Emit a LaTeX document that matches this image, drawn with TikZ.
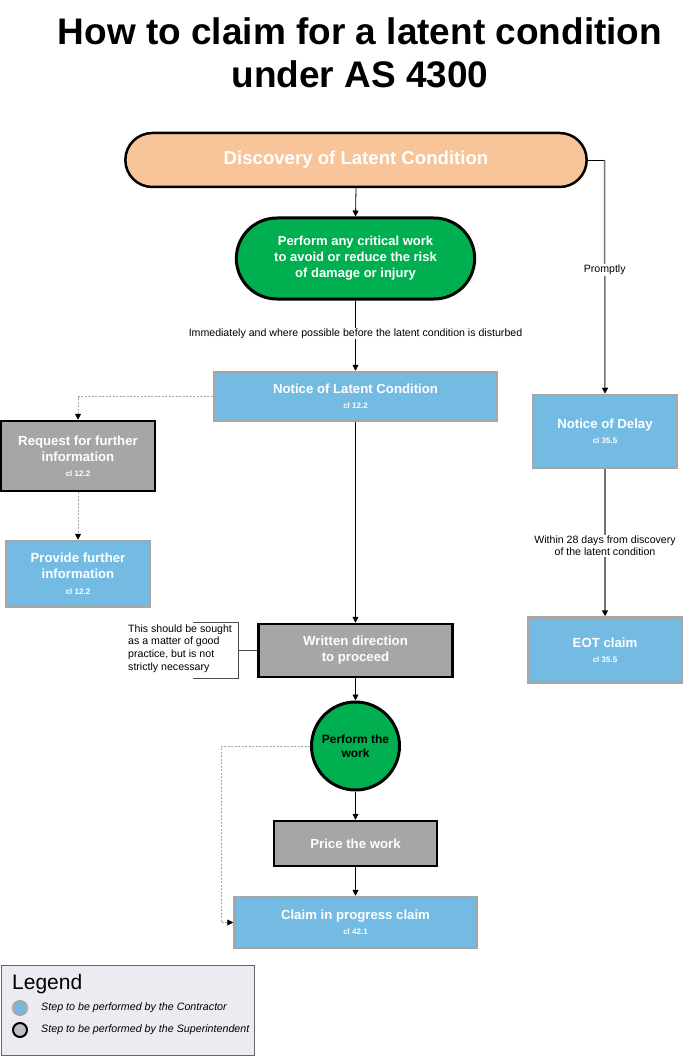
\documentclass[tikz,border=0pt]{standalone}
\usepackage{fontspec}
\setmainfont{Liberation Sans}
\usetikzlibrary{arrows.meta,shapes.misc}
\definecolor{peach}{HTML}{F8C49A}
\definecolor{grn}{HTML}{00B050}
\definecolor{blu}{HTML}{74BBE4}
\definecolor{gry}{HTML}{A6A6A6}
\definecolor{lav}{HTML}{EEEAF2}
\newcommand{\clno}[1]{{\fontsize{8}{10}\selectfont #1}}
\tikzset{
  conn/.style={draw=black, line width=0.8pt, -{Triangle[length=6pt,width=6pt]}},
  gconn/.style={draw=black!55, line width=1.5pt, -{Triangle[length=6pt,width=6pt,black]}},
  dconn/.style={draw=black!35, line width=0.8pt, dash pattern=on 2pt off 1.5pt, -{Triangle[length=6pt,width=6pt,black]}},
  contr/.style={draw=gry, line width=2.5pt, fill=blu, text=white, font=\fontsize{13.2}{16}\selectfont\bfseries, align=center, inner sep=0pt},
  superv/.style={draw=black, line width=2.5pt, fill=gry, text=white, font=\fontsize{13.2}{16}\selectfont\bfseries, align=center, inner sep=0pt},
  lbl/.style={fill=white, font=\fontsize{10.6}{12.5}\selectfont, align=center, inner sep=1pt},
}
\begin{document}
\begin{tikzpicture}[x=1pt,y=-1pt]
\useasboundingbox (0,0) rectangle (694,1056);
% title
\node[font=\fontsize{37}{43}\selectfont\bfseries, align=center] (title) at (360,53) {How to claim for a latent condition\\under AS 4300};
% discovery
\node[draw=black, line width=2.5pt, fill=peach, rounded rectangle, minimum width=468pt, minimum height=54pt, text=white, font=\fontsize{18.6}{22}\selectfont\bfseries] (disc) at (356,160) {Discovery of Latent Condition};
% critical
\node[draw=black, line width=3pt, fill=grn, rounded rectangle, minimum width=245pt, minimum height=81pt, text=white, font=\fontsize{13}{16}\selectfont\bfseries, align=center] (crit) at (355.5,258.5) {Perform any critical work\\to avoid or reduce the risk\\of damage or injury};
% notice latent
\node[contr, minimum width=283pt, minimum height=49pt] (nlc) at (355.5,396.5) {Notice of Latent Condition\\[-1pt]\clno{cl 12.2}};
% request
\node[superv, minimum width=154pt, minimum height=70pt] (req) at (78,456) {Request for further\\information\\[-1pt]\clno{cl 12.2}};
% provide
\node[contr, minimum width=144pt, minimum height=66pt] (prov) at (78,574) {Provide further\\information\\[0pt]\clno{cl 12.2}};
% written
\node[superv, minimum width=194pt, minimum height=53pt] (wdp) at (355.5,650.5) {Written direction\\to proceed};
% note
\node[align=left, font=\fontsize{10.6}{12.6}\selectfont, anchor=north west, inner sep=0pt] (note) at (128,624.5) {This should be sought\\as a matter of good\\practice, but is not\\strictly necessary};
\coordinate (bt) at (238,622);
\coordinate (bb) at (238,678);
\draw[line width=0.6pt, black!70] (193,622) -- (bt) -- (bb) -- (193,678);
\draw[line width=0.6pt, black!70] (238,650.5) -- (wdp.west);
% circle
\node[circle, draw=black, line width=3pt, fill=grn, minimum size=88pt, inner sep=0pt, align=center, font=\fontsize{12}{14}\selectfont\bfseries] (pw) at (355.5,746) {Perform the\\work};
% price
\node[superv, minimum width=163pt, minimum height=45pt] (price) at (355.5,843.5) {Price the work};
% claim
\node[contr, minimum width=242pt, minimum height=51pt] (claim) at (355.5,922.5) {Claim in progress claim\\[-1pt]\clno{cl 42.1}};
% notice delay
\node[contr, minimum width=144pt, minimum height=73pt] (nod) at (605,431.5) {Notice of Delay\\[-1pt]\clno{cl 35.5}};
% EOT
\node[contr, minimum width=154pt, minimum height=65pt] (eot) at (605,650) {EOT claim\\[-1pt]\clno{cl 35.5}};
% connectors
\draw[conn] (disc.south) -- (crit.north);
\draw[conn] (crit.south) -- node[lbl, pos=0.47] (lim) {Immediately and where possible before the latent condition is disturbed} (nlc.north);
\draw[dconn] (nlc.west) -| (req.north);
\draw[dconn] (req.south) -- (prov.north);
\draw[conn] (nlc.south) -- (wdp.north);
\draw[conn] (wdp.south) -- (pw.north);
\draw[conn] (pw.south) -- (price.north);
\draw[conn] (price.south) -- (claim.north);
\coordinate (dl) at (221,746);
\draw[dconn] (pw.west) -- (dl) |- (claim.west);
\coordinate (rt) at (604.5,160);
\draw[line width=0.8pt] (disc.east) -- (rt);
\draw[gconn] (rt) -- node[lbl, pos=0.47] (lprom) {Promptly} (nod.north);
\draw[gconn] (nod.south) -- node[lbl, pos=0.52] (l28) {Within 28 days from discovery\\of the latent condition} (eot.north);
% legend
\node[draw=black!60, line width=1pt, fill=lav, minimum width=253pt, minimum height=90pt, inner sep=0pt] (leg) at (127.5,1010) {};
\node[anchor=west, font=\fontsize{21}{24}\selectfont, inner sep=0pt] (legt) at (12,984) {Legend};
\node[circle, draw=gry, line width=2pt, fill=blu, minimum size=14pt, inner sep=0pt] (lc1) at (20,1008) {};
\node[circle, draw=black, line width=2pt, fill=black!25, minimum size=14pt, inner sep=0pt] (lc2) at (20,1030) {};
\node[anchor=west, font=\fontsize{10.7}{12}\selectfont\itshape, inner sep=0pt] (lt1) at (41,1008) {Step to be performed by the Contractor};
\node[anchor=west, font=\fontsize{10.7}{12}\selectfont\itshape, inner sep=0pt] (lt2) at (41,1030) {Step to be performed by the Superintendent};
\end{tikzpicture}
\end{document}
